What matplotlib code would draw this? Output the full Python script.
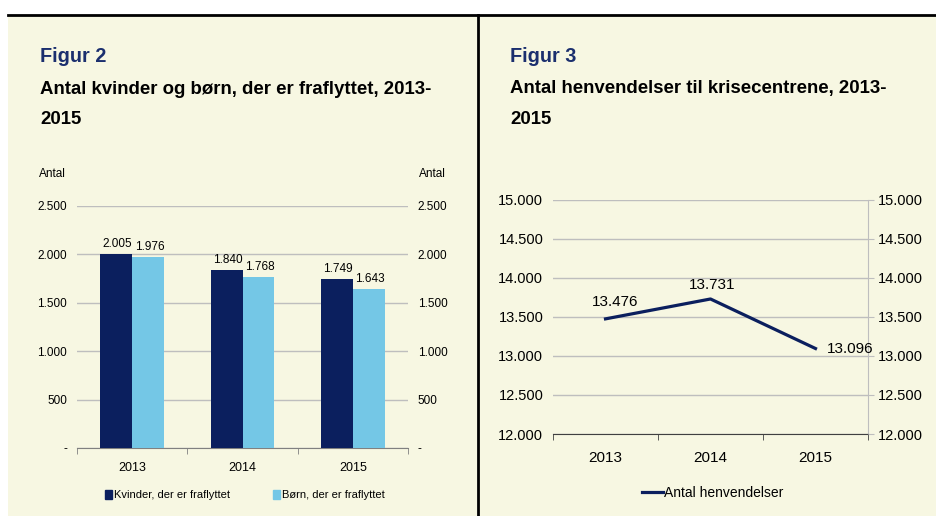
import matplotlib.pyplot as plt
from matplotlib.patches import Rectangle, Patch
from matplotlib.lines import Line2D

# data
years = ["2013", "2014", "2015"]
kvinder = [2005, 1840, 1749]
boern = [1976, 1768, 1643]
henvendelser = [13476, 13731, 13096]

W, H = 936, 516
NAVY = "#0B1F5E"
LIGHT = "#74C7E6"
CREAM = "#F7F7E2"
GRID = "#BEBEBE"
TITLE_BLUE = "#1B2F6E"
NARROW = ["Liberation Sans", "DejaVu Sans"]
plt.rcParams["font.family"] = ["Liberation Sans", "DejaVu Sans"]


def dk(v):
    return f"{v:,.0f}".replace(",", ".")


def px_axes(fig, x0, y0, x1, y1):
    # pixel box (top-left origin) -> figure fraction
    return fig.add_axes([x0 / W, 1 - y1 / H, (x1 - x0) / W, (y1 - y0) / H])


fig = plt.figure(figsize=(W / 100, H / 100), dpi=100, facecolor="white")

# panel backgrounds and frame lines
fig.patches.append(Rectangle((8 / W, 0), (469 / W), 1 - 15 / H, transform=fig.transFigure,
                             facecolor=CREAM, edgecolor="none", zorder=-5))
fig.patches.append(Rectangle((479 / W, 0), (457 / W), 1 - 15 / H, transform=fig.transFigure,
                             facecolor=CREAM, edgecolor="none", zorder=-5))
fig.add_artist(Line2D([8 / W, 1], [1 - 15 / H, 1 - 15 / H], transform=fig.transFigure,
                      color="black", lw=2))
fig.add_artist(Line2D([478 / W, 478 / W], [0, 1 - 15 / H], transform=fig.transFigure,
                      color="black", lw=2))

# titles
for x, num, title in [(40, "Figur 2", "Antal kvinder og børn, der er fraflyttet, 2013-"),
                      (510, "Figur 3", "Antal henvendelser til krisecentrene, 2013-")]:
    fig.text(x / W, 1 - 57 / H, num, color=TITLE_BLUE, fontsize=14.3, fontweight="bold", va="center")
    fig.text(x / W, 1 - 89 / H, title, color="black", fontsize=13.4, fontweight="bold", va="center")
    fig.text(x / W, 1 - 120 / H, "2015", color="black", fontsize=13.4, fontweight="bold", va="center")

# ---- Figur 2: bars ----
ax = px_axes(fig, 77, 206, 408, 448)
ax.set_facecolor("none")
xs = range(len(years))
bw = 0.29
b1 = ax.bar([x - bw / 2 for x in xs], kvinder, bw, color=NAVY, zorder=3)
b2 = ax.bar([x + bw / 2 for x in xs], boern, bw, color=LIGHT, zorder=3)
for bars, vals in [(b1, kvinder), (b2, boern)]:
    for r, v in zip(bars, vals):
        ax.annotate(dk(v), (r.get_x() + r.get_width() / 2, v), xytext=(1, 3),
                    textcoords="offset points", ha="center", va="bottom",
                    fontsize=8.5, family=NARROW)
ax.set_xlim(-0.5, 2.5)
ax.set_ylim(0, 2500)
yt = [0, 500, 1000, 1500, 2000, 2500]
ylab = ["-" if v == 0 else dk(v) for v in yt]
ax.set_yticks(yt)
ax.set_yticklabels(ylab, family=NARROW, fontsize=8.5)
ax.yaxis.grid(True, color=GRID, lw=1, zorder=0)
ax.set_xticks(list(xs))
ax.set_xticklabels(years, family=NARROW, fontsize=9)
ax.set_xticks([-0.5, 0.5, 1.5, 2.5], minor=True)
ax.tick_params(axis="x", which="major", length=0, pad=10)
ax.tick_params(axis="x", which="minor", length=4, color="#808080")
ax.tick_params(axis="y", length=0, pad=7)
for s in ["top", "left", "right"]:
    ax.spines[s].set_visible(False)
ax.spines["bottom"].set_color("#808080")
ax2 = ax.twinx()
ax2.set_ylim(0, 2500)
ax2.set_yticks(yt)
ax2.set_yticklabels(ylab, family=NARROW, fontsize=8.5)
ax2.tick_params(axis="y", length=0, pad=7)
for s in ax2.spines.values():
    s.set_visible(False)
fig.text(52 / W, 1 - 174 / H, "Antal", family=NARROW, fontsize=8.5, ha="center", va="center")
fig.text(432 / W, 1 - 174 / H, "Antal", family=NARROW, fontsize=8.5, ha="center", va="center")
ax.legend([Patch(color=NAVY), Patch(color=LIGHT)],
          ["Kvinder, der er fraflyttet", "Børn, der er fraflyttet"],
          loc="center", bbox_to_anchor=(245 / W, 1 - 495 / H), bbox_transform=fig.transFigure,
          ncol=2, frameon=False, prop={"family": NARROW, "size": 8},
          handlelength=0.6, handleheight=0.9, handletextpad=0.2, columnspacing=3.9)

# ---- Figur 3: line ----
bx = px_axes(fig, 553, 200, 868, 434)
bx.set_facecolor("none")
bx.plot(list(xs), henvendelser, color=NAVY, lw=2.3, zorder=3)
offsets = [((7, 7), "center"), ((1, 5), "center"), ((8, 0), "left")]
for x, v, (off, ha) in zip(xs, henvendelser, offsets):
    bx.annotate(dk(v), (x, v), xytext=off, textcoords="offset points", ha=ha,
                va="bottom" if ha == "center" else "center", fontsize=11, family=NARROW)
bx.set_xlim(-0.5, 2.5)
bx.set_ylim(12000, 15000)
yt3 = list(range(12000, 15001, 500))
bx.set_yticks(yt3)
bx.set_yticklabels([dk(v) for v in yt3], family=NARROW, fontsize=10.5)
bx.yaxis.grid(True, color=GRID, lw=1, zorder=0)
bx.set_xticks(list(xs))
bx.set_xticklabels(years, family=NARROW, fontsize=11)
bx.set_xticks([-0.5, 0.5, 1.5, 2.5], minor=True)
bx.tick_params(axis="x", which="major", length=0, pad=12)
bx.tick_params(axis="x", which="minor", length=4, color="#404040")
bx.tick_params(axis="y", length=0, pad=7)
for s in ["top", "left"]:
    bx.spines[s].set_visible(False)
bx.spines["right"].set_color(GRID)
bx.spines["bottom"].set_color("#404040")
bx2 = bx.twinx()
bx2.set_ylim(12000, 15000)
bx2.set_yticks(yt3)
bx2.set_yticklabels([dk(v) for v in yt3], family=NARROW, fontsize=10.5)
bx2.tick_params(axis="y", length=4, color=GRID, pad=3)
for s in bx2.spines.values():
    s.set_visible(False)
bx.legend([Line2D([0], [0], color=NAVY, lw=2.3)], ["Antal henvendelser"],
          loc="center", bbox_to_anchor=(713 / W, 1 - 493 / H), bbox_transform=fig.transFigure,
          frameon=False, prop={"family": NARROW, "size": 10},
          handlelength=1.5, handletextpad=0.1)

fig.savefig("out.png", dpi=100, facecolor="white")
